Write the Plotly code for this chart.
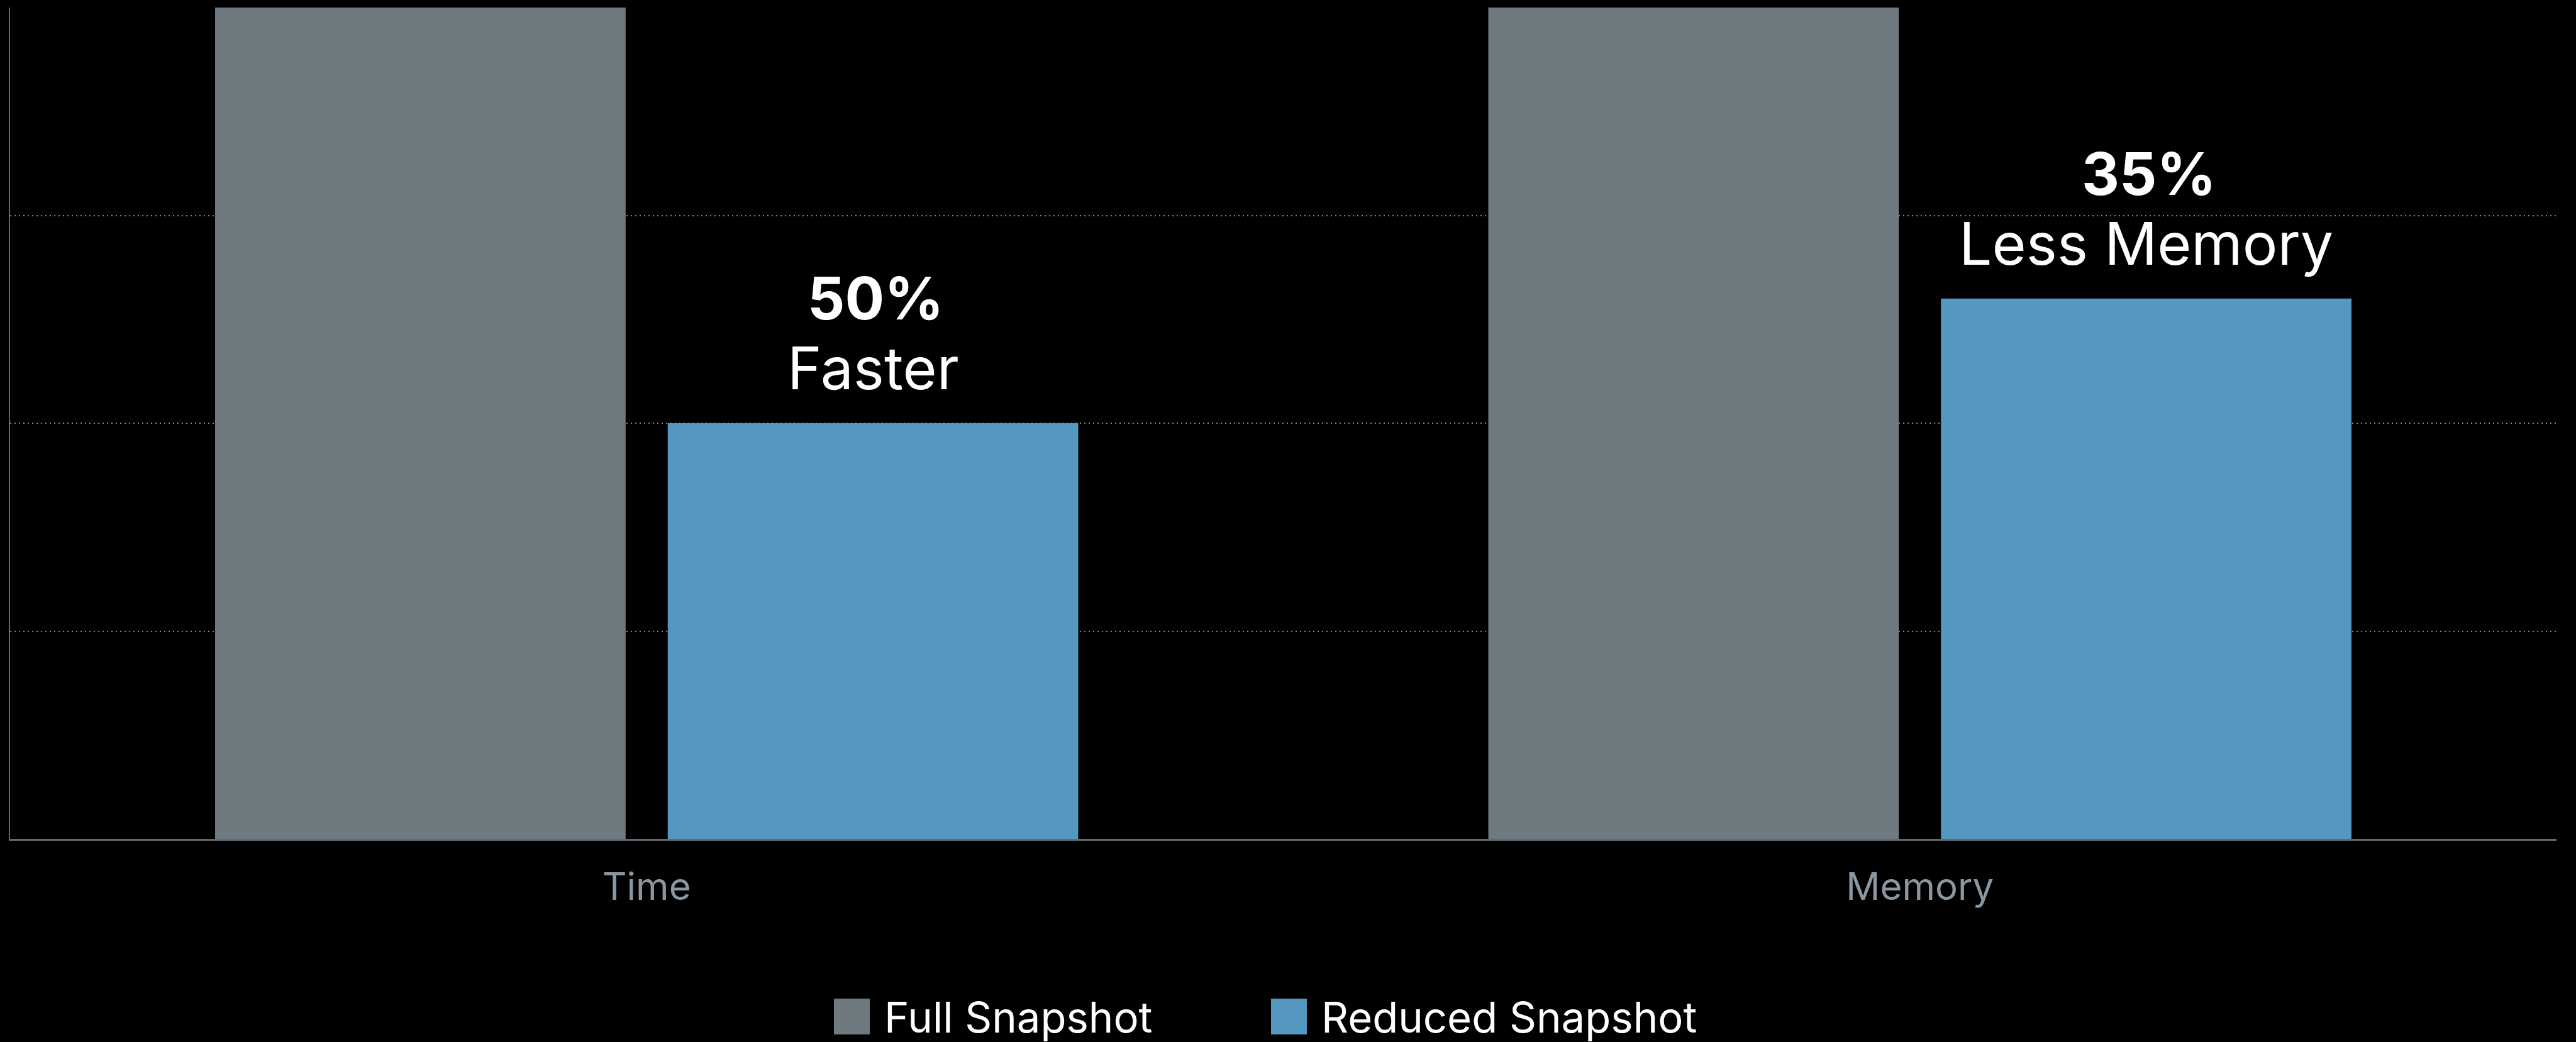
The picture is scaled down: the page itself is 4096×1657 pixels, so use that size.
import plotly.graph_objects as go

# ---- data ----
categories = ["Time", "Memory"]
full_snapshot = [100, 100]
reduced_snapshot = [50, 65]
reduced_pct = ["50%", "35%"]
reduced_desc = ["Faster", "Less Memory"]
series_names = ["Full Snapshot", "Reduced Snapshot"]

# ---- style ----
W, H = 4096, 1657
GRAY = "#6E7A80"
BLUE = "#5497C1"
AXIS = "#616b73"
GRID = "#7c868e"
TICK = "#8A96A0"
FONT = "Inter"

M_L, M_R, M_T, M_B = 16, 31, 12, 323
plot_w = W - M_L - M_R
plot_h = H - M_T - M_B
BARGAP = 0.289
BARGROUPGAP = 0.093

fig = go.Figure()
fig.add_trace(go.Bar(x=categories, y=full_snapshot, name=series_names[0],
                     marker=dict(color=GRAY, line=dict(width=0)), showlegend=False))
fig.add_trace(go.Bar(x=categories, y=reduced_snapshot, name=series_names[1],
                     marker=dict(color=BLUE, line=dict(width=0)), showlegend=False))

# annotations above the reduced bars (offset = half a bar slot within the group)
cat_w = plot_w / len(categories)
slot = cat_w * (1 - BARGAP) / 2
for c, v, p, d in zip(categories, reduced_snapshot, reduced_pct, reduced_desc):
    fig.add_annotation(x=c, y=v, xref="x", yref="y", text=d, showarrow=False,
                       xshift=slot / 2, yanchor="bottom", yshift=30,
                       font=dict(family=FONT, size=93, color="white"))
    fig.add_annotation(x=c, y=v, xref="x", yref="y", text="<b>" + p + "</b>",
                       showarrow=False, xshift=slot / 2 + 4, yanchor="bottom",
                       yshift=141, font=dict(family=FONT, size=93, color="white"))

# manual legend (pixel positions -> paper coords)
def px(xp):
    return (xp - M_L) / plot_w
def py(yp):
    return (H - M_B - yp) / plot_h

legend_items = [(series_names[0], GRAY, 1326), (series_names[1], BLUE, 2021)]
for name, col, x0 in legend_items:
    fig.add_shape(type="rect", xref="paper", yref="paper",
                  x0=px(x0), x1=px(x0 + 57), y0=py(1645), y1=py(1588),
                  fillcolor=col, line=dict(width=0))
    fig.add_annotation(xref="paper", yref="paper", x=px(x0 + 78), y=py(1617),
                       xanchor="left", yanchor="middle", showarrow=False,
                       text=name, font=dict(family=FONT, size=67, color="white"))

fig.update_layout(
    width=W, height=H,
    margin=dict(l=M_L, r=M_R, t=M_T, b=M_B, pad=0),
    paper_bgcolor="black", plot_bgcolor="black",
    barmode="group", bargap=BARGAP, bargroupgap=BARGROUPGAP,
    showlegend=False,
    font=dict(family=FONT, color="white"),
)
fig.update_xaxes(showline=True, linecolor=AXIS, linewidth=3, showgrid=False,
                 ticks="", tickfont=dict(family=FONT, size=60, color=TICK),
                 ticklabelstandoff=22, zeroline=False)
fig.update_yaxes(range=[0, 100], tickvals=[25, 50, 75, 100], showticklabels=False,
                 showgrid=True, gridcolor=GRID, gridwidth=2, griddash="2px,5px",
                 showline=True, linecolor=AXIS, linewidth=2, zeroline=False, ticks="")

fig.write_html("out.html")
